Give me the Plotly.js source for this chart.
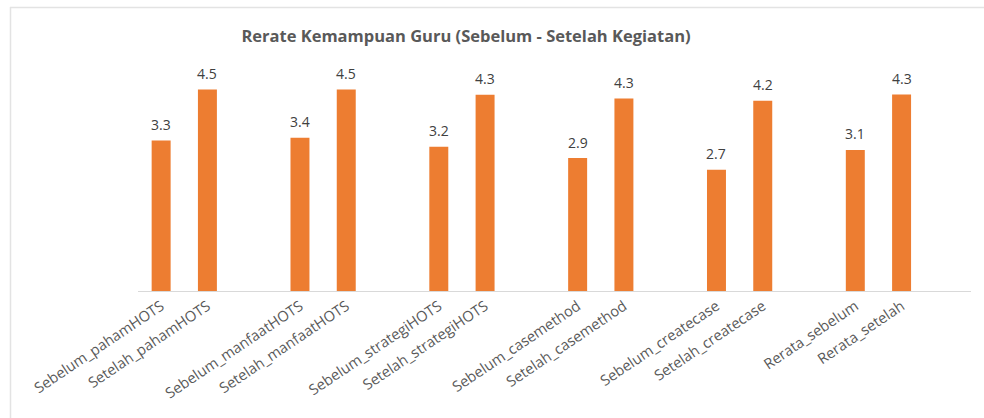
<!DOCTYPE html>
<html>
<head>
<meta charset="utf-8">
<script src="https://cdn.plot.ly/plotly-3.0.1.min.js"></script>
<style>
  html, body { margin: 0; padding: 0; background: #ffffff; }
  #chart { width: 984px; height: 418px; }
</style>
</head>
<body>
<div id="chart"></div>
<script>
// ---- data ----
const categories = [
  "Sebelum_pahamHOTS", "Setelah_pahamHOTS",
  "Sebelum_manfaatHOTS", "Setelah_manfaatHOTS",
  "Sebelum_strategiHOTS", "Setelah_strategiHOTS",
  "Sebelum_casemethod", "Setelah_casemethod",
  "Sebelum_createcase", "Setelah_createcase",
  "Rerata_sebelum", "Rerata_setelah"
];
const values = [3.33, 4.46, 3.39, 4.46, 3.19, 4.34, 2.94, 4.26, 2.68, 4.21, 3.12, 4.35];
const chartTitle = "Rerate Kemampuan Guru (Sebelum - Setelah Kegiatan)";

// ---- layout helpers ----
// each pair of bars is followed by one empty slot
const slots = categories.map((c, i) => i + Math.floor(i / 2));
const nSlots = slots[slots.length - 1] + 2;

const W = 984, H = 418;
const M = { l: 138, r: 13, t: 65, b: 127 };
const pw = W - M.l - M.r, ph = H - M.t - M.b;
const px2paperX = px => (px - M.l) / pw;
const py2paperY = py => (H - M.b - py) / ph;

const labelFont = { family: "Open Sans, sans-serif", size: 14, color: "#404040" };

const annotations = values.map((v, i) => ({
  x: slots[i], y: v, xref: "x", yref: "y",
  text: v.toFixed(1), showarrow: false,
  yanchor: "middle", yshift: 16,
  font: labelFont
}));

const trace = {
  type: "bar",
  x: slots,
  y: values,
  width: 0.41,
  marker: { color: "#ED7D31" },
  hoverinfo: "skip"
};

const borderColor = "#e3e3e3";
const layout = {
  width: W, height: H,
  margin: M,
  paper_bgcolor: "#ffffff",
  plot_bgcolor: "#ffffff",
  showlegend: false,
  title: {
    text: chartTitle,
    x: 466 / W, xref: "container", xanchor: "center",
    y: 1 - 36 / H, yref: "container", yanchor: "middle",
    font: { family: "Open Sans, sans-serif", size: 16.5, color: "#595959", weight: "bold" }
  },
  xaxis: {
    range: [-0.5, nSlots - 0.5],
    tickmode: "array",
    tickvals: slots,
    ticktext: categories,
    tickangle: -34,
    tickfont: { family: "Open Sans, sans-serif", size: 14.7, color: "#595959" },
    showgrid: false, zeroline: false,
    showline: true, linecolor: "#d9d9d9", linewidth: 1,
    ticks: "", fixedrange: true
  },
  yaxis: {
    range: [0, 5],
    visible: false, showgrid: false, zeroline: false, fixedrange: true
  },
  annotations: annotations,
  shapes: [
    { type: "line", xref: "paper", yref: "paper", layer: "below",
      x0: px2paperX(10.5), x1: px2paperX(10.5), y0: py2paperY(7), y1: py2paperY(H),
      line: { color: borderColor, width: 1.5 } },
    { type: "line", xref: "paper", yref: "paper", layer: "below",
      x0: px2paperX(10), x1: px2paperX(W), y0: py2paperY(7.5), y1: py2paperY(7.5),
      line: { color: borderColor, width: 1.5 } }
  ]
};

Plotly.newPlot("chart", [trace], layout, { displayModeBar: false, staticPlot: true });
</script>
</body>
</html>
